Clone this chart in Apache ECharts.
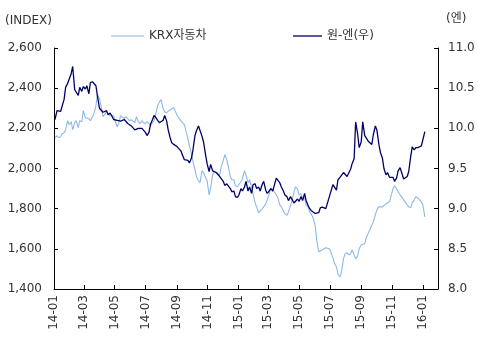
<!DOCTYPE html>
<html><head><meta charset="utf-8">
<script src="https://cdn.jsdelivr.net/npm/echarts@6/dist/echarts.min.js"></script>
<style>html,body{margin:0;padding:0;background:#fff}#c{width:478px;height:340px}</style>
</head><body><div id="c"></div>
<script>
// Friday closes
const fridays = [
'2014-01-03','2014-01-10','2014-01-17','2014-01-24','2014-01-31','2014-02-07','2014-02-14','2014-02-21','2014-02-28','2014-03-07',
'2014-03-14','2014-03-21','2014-03-28','2014-04-04','2014-04-11','2014-04-18','2014-04-25','2014-05-02','2014-05-09','2014-05-16',
'2014-05-23','2014-05-30','2014-06-06','2014-06-13','2014-06-20','2014-06-27','2014-07-04','2014-07-11','2014-07-18','2014-07-25',
'2014-08-01','2014-08-08','2014-08-15','2014-08-22','2014-08-29','2014-09-05','2014-09-12','2014-09-19','2014-09-26','2014-10-03',
'2014-10-10','2014-10-17','2014-10-24','2014-10-31','2014-11-07','2014-11-14','2014-11-21','2014-11-28','2014-12-05','2014-12-12',
'2014-12-19','2014-12-26','2015-01-02','2015-01-09','2015-01-16','2015-01-23','2015-01-30','2015-02-06','2015-02-13','2015-02-20',
'2015-02-27','2015-03-06','2015-03-13','2015-03-20','2015-03-27','2015-04-03','2015-04-10','2015-04-17','2015-04-24','2015-05-01',
'2015-05-08','2015-05-15','2015-05-22','2015-05-29','2015-06-05','2015-06-12','2015-06-19','2015-06-26','2015-07-03','2015-07-10',
'2015-07-17','2015-07-24','2015-07-31','2015-08-07','2015-08-14','2015-08-21','2015-08-28','2015-09-04','2015-09-11','2015-09-18',
'2015-09-25','2015-10-02','2015-10-09','2015-10-16','2015-10-23','2015-10-30','2015-11-06','2015-11-13','2015-11-20','2015-11-27',
'2015-12-04','2015-12-11','2015-12-18','2015-12-25','2016-01-01','2016-01-05'
];
const krxFri = [
2153,2153,2173,2193,2218,2193,2238,2238,2288,2248,
2238,2273,2368,2313,2268,2273,2263,2238,2223,2258,
2258,2238,2248,2258,2223,2228,2233,2213,2238,2313,
2343,2283,2283,2293,2298,2263,2233,2223,2113,2034,
1959,1929,1979,1939,1904,1984,1984,2009,2069,2009,
1944,1914,1914,1949,1969,1944,1874,1809,1789,1809,
1844,1904,1899,1854,1809,1774,1784,1839,1909,1869,
1849,1819,1784,1754,1640,1590,1600,1600,1585,1530,
1475,1485,1575,1570,1595,1550,1600,1615,1655,1694,
1734,1794,1809,1814,1829,1864,1914,1884,1859,1834,
1809,1829,1859,1849,1819,1759
];
const wonFri = [
10.11,10.20,10.22,10.51,10.58,10.77,10.48,10.51,10.52,10.53,
10.57,10.58,10.40,10.26,10.21,10.17,10.16,10.09,10.11,10.09,
10.10,10.05,10.01,9.97,9.98,10.00,9.91,10.05,10.16,10.10,
10.07,10.16,9.98,9.82,9.79,9.75,9.70,9.60,9.57,9.73,
9.97,10.01,9.83,9.56,9.55,9.48,9.46,9.39,9.29,9.31,
9.21,9.15,9.17,9.22,9.34,9.27,9.30,9.25,9.22,9.34,
9.19,9.25,9.29,9.40,9.27,9.17,9.10,9.15,9.07,9.09,
9.10,9.10,9.00,8.99,8.94,9.01,9.00,9.01,9.17,9.29,
9.36,9.37,9.43,9.42,9.56,10.08,9.76,10.08,9.92,9.85,
9.92,9.98,9.70,9.50,9.45,9.37,9.34,9.47,9.45,9.36,
9.46,9.77,9.76,9.76,9.80,9.96
];
// Tuesday closes
const tuesdays = [
'2014-01-07','2014-01-14','2014-01-21','2014-01-28','2014-02-04','2014-02-11','2014-02-18','2014-02-25','2014-03-04','2014-03-11',
'2014-03-18','2014-03-25','2014-04-01','2014-04-08','2014-04-15','2014-04-22','2014-04-29','2014-05-06','2014-05-13','2014-05-20',
'2014-05-27','2014-06-03','2014-06-10','2014-06-17','2014-06-24','2014-07-01','2014-07-08','2014-07-15','2014-07-22','2014-07-29',
'2014-08-05','2014-08-12','2014-08-19','2014-08-26','2014-09-02','2014-09-09','2014-09-16','2014-09-23','2014-09-30','2014-10-07',
'2014-10-14','2014-10-21','2014-10-28','2014-11-04','2014-11-11','2014-11-18','2014-11-25','2014-12-02','2014-12-09','2014-12-16',
'2014-12-23','2014-12-30','2015-01-06','2015-01-13','2015-01-20','2015-01-27','2015-02-03','2015-02-10','2015-02-17','2015-02-24',
'2015-03-03','2015-03-10','2015-03-17','2015-03-24','2015-03-31','2015-04-07','2015-04-14','2015-04-21','2015-04-28','2015-05-05',
'2015-05-12','2015-05-19','2015-05-26','2015-06-02','2015-06-09','2015-06-16','2015-06-23','2015-06-30','2015-07-07','2015-07-14',
'2015-07-21','2015-07-28','2015-08-04','2015-08-11','2015-08-18','2015-08-25','2015-09-01','2015-09-08','2015-09-15','2015-09-22',
'2015-09-29','2015-10-06','2015-10-13','2015-10-20','2015-10-27','2015-11-03','2015-11-10','2015-11-17','2015-11-24','2015-12-01',
'2015-12-08','2015-12-15','2015-12-22','2015-12-29'
];
const krxTue = [
2163,2158,2178,2238,2233,2228,2203,2233,2253,2248,
2258,2313,2348,2258,2283,2263,2263,2208,2263,2248,
2248,2243,2228,2233,2238,2223,2223,2228,2278,2333,
2298,2278,2293,2303,2263,2238,2218,2148,2074,1994,
1939,1989,1954,1869,1969,1979,1969,2039,2044,1959,
1944,1909,1934,1989,1929,1909,1829,1779,1799,1824,
1874,1894,1869,1819,1789,1767,1814,1884,1899,1874,
1854,1809,1769,1714,1585,1595,1605,1600,1555,1510,
1460,1550,1580,1575,1570,1565,1620,1625,1679,1719,
1769,1809,1809,1824,1834,1899,1899,1869,1844,1819,
1804,1844,1854,1834
];
const wonTue = [
10.22,10.21,10.36,10.56,10.68,10.48,10.41,10.46,10.49,10.43,
10.58,10.53,10.25,10.20,10.22,10.19,10.11,10.10,10.09,10.11,
10.06,10.03,9.98,10.00,10.00,9.95,9.95,10.11,10.13,10.07,
10.10,10.09,9.88,9.80,9.77,9.72,9.61,9.60,9.63,9.91,
10.03,9.90,9.67,9.46,9.47,9.45,9.40,9.34,9.31,9.25,
9.22,9.14,9.25,9.27,9.22,9.19,9.31,9.27,9.30,9.23,
9.22,9.22,9.38,9.32,9.22,9.15,9.15,9.07,9.12,9.15,
9.19,9.04,8.97,8.94,8.95,9.02,9.00,9.15,9.30,9.23,
9.39,9.45,9.40,9.49,9.62,9.93,9.83,9.91,9.84,9.80,
10.03,9.80,9.63,9.42,9.39,9.39,9.38,9.51,9.37,9.40,
9.65,9.73,9.76,9.78
];
const xTickLabels = ['14-01','14-03','14-05','14-07','14-09','14-11','15-01','15-03','15-05','15-07','15-09','15-11','16-01'];
const seriesNames = ['KRX자동차','원-엔(우)'];

function ts(s){const p=s.split('-').map(Number);return Date.UTC(p[0],p[1]-1,p[2]);}
function tickTs(l){const p=l.split('-').map(Number);return Date.UTC(2000+p[0],p[1]-1,1);}
const tickVals = xTickLabels.map(tickTs);
const labelOf = {};
tickVals.forEach((v,i)=>{labelOf[v]=xTickLabels[i];});
function merge(d1,v1,d2,v2){
  const out=d1.map((d,i)=>[ts(d),v1[i]]).concat(d2.map((d,i)=>[ts(d),v2[i]]));
  out.sort((a,b)=>a[0]-b[0]);
  return out;
}

const FONT = "'DejaVu Sans','Noto Sans CJK KR',sans-serif";
const txt = {color:'#333', fontSize:12, fontFamily:FONT};

const chart = echarts.init(document.getElementById('c'), null, {renderer:'canvas'});
chart.setOption({
  animation:false,
  backgroundColor:'#fff',
  textStyle:{fontFamily:FONT},
  grid:{left:54, right:40, top:48, bottom:51},
  legend:[
    {data:[seriesNames[0]], left:106, top:25, icon:'rect', itemWidth:33, itemHeight:1, textStyle:txt},
    {data:[seriesNames[1]], left:288, top:25, icon:'rect', itemWidth:29, itemHeight:1.3, textStyle:txt}
  ],
  graphic:[
    {type:'text', left:5, top:15, style:{text:'(INDEX)', fill:'#333', font:"12px "+FONT}},
    {type:'text', left:446, top:13, style:{text:'(엔)', fill:'#333', font:"12px "+FONT}}
  ],
  xAxis:{
    type:'value',
    min:ts('2014-01-01'), max:ts('2016-01-31'),
    axisLine:{lineStyle:{color:'#000', width:1}},
    axisTick:{show:true, inside:true, length:4, lineStyle:{color:'#000'}, customValues:tickVals},
    axisLabel:{rotate:90, margin:6, color:'#333', fontSize:12, fontFamily:FONT, customValues:tickVals,
      formatter:function(v){return labelOf[v]||'';}},
    splitLine:{show:false}
  },
  yAxis:[
    {type:'value', min:1400, max:2600, interval:200, position:'left',
     axisLine:{show:true, lineStyle:{color:'#000'}},
     axisTick:{show:true, inside:true, length:4, lineStyle:{color:'#000'}},
     axisLabel:{margin:12, color:'#333', fontSize:12, fontFamily:FONT, formatter:v=>v.toLocaleString('en-US')},
     splitLine:{show:false}},
    {type:'value', min:8, max:11, interval:0.5, position:'right',
     axisLine:{show:true, lineStyle:{color:'#000'}},
     axisTick:{show:true, inside:true, length:4, lineStyle:{color:'#000'}},
     axisLabel:{margin:10, color:'#333', fontSize:12, fontFamily:FONT, formatter:v=>v.toFixed(1)},
     splitLine:{show:false}}
  ],
  series:[
    {name:seriesNames[0], type:'line', yAxisIndex:0, symbol:'none', color:'#8DB8E6',
     lineStyle:{color:'#8DB8E6', width:1.1}, data:merge(fridays,krxFri,tuesdays,krxTue)},
    {name:seriesNames[1], type:'line', yAxisIndex:1, symbol:'none', color:'#000066',
     lineStyle:{color:'#000066', width:1.3}, data:merge(fridays,wonFri,tuesdays,wonTue)}
  ]
});
</script></body></html>
